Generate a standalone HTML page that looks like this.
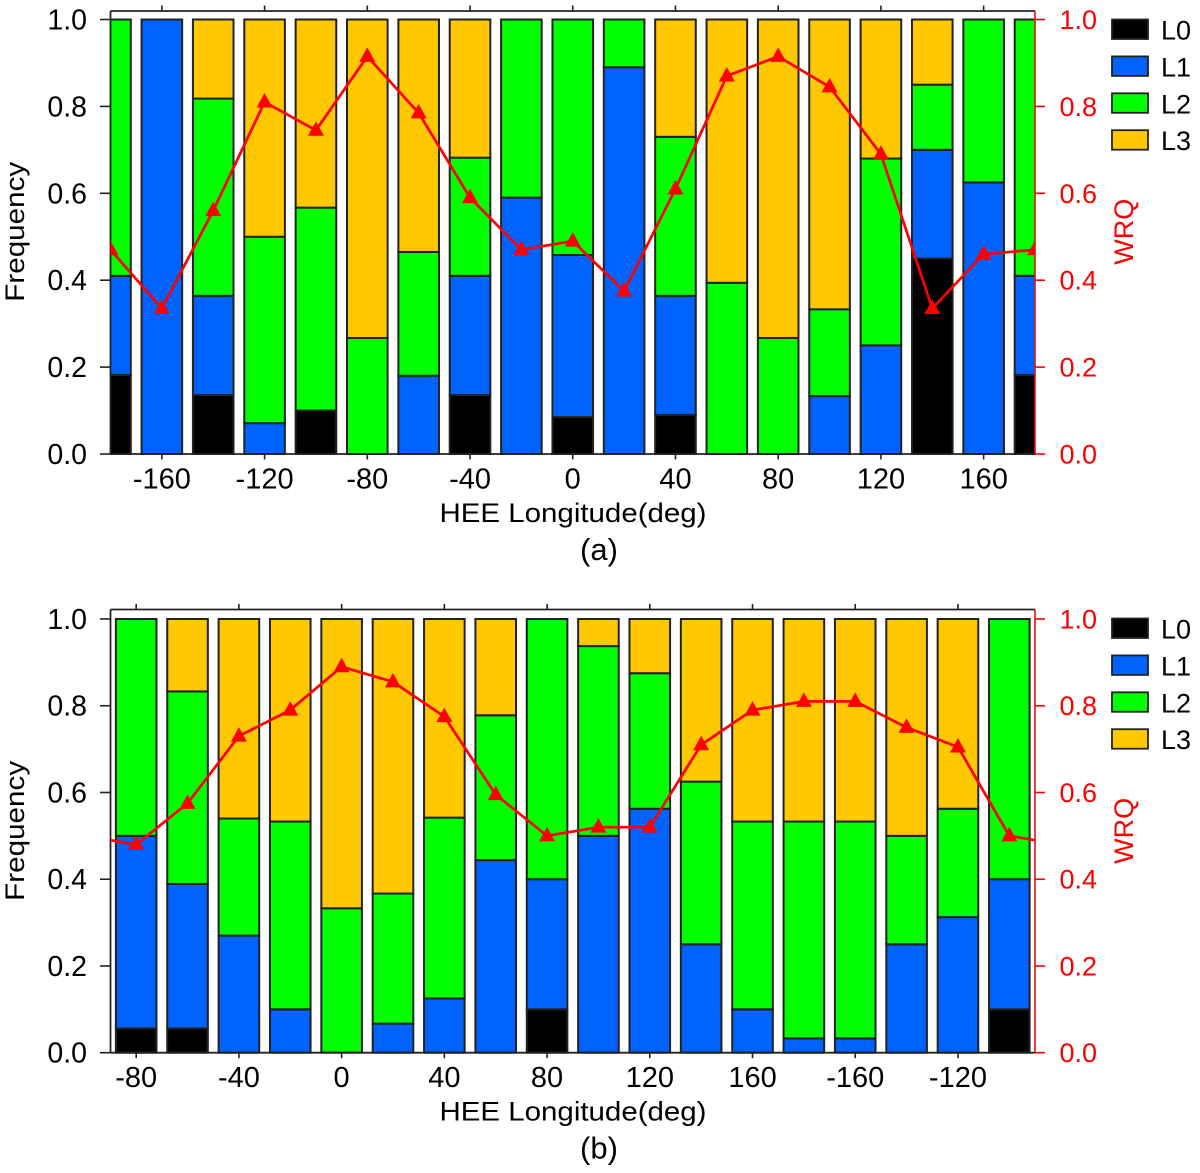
<!DOCTYPE html>
<html lang="en">
<head>
<meta charset="utf-8">
<title>Frequency and WRQ by HEE Longitude</title>
<style>
  html, body { margin: 0; padding: 0; background: #fff; }
  svg { display: block; filter: blur(0.35px); }
  text { font-family: "Liberation Sans", sans-serif; }
</style>
</head>
<body>
<svg id="chart" xmlns="http://www.w3.org/2000/svg" width="1200" height="1173" viewBox="0 0 1200 1173">
  <defs>
    <clipPath id="clip-a"><rect x="110.5" y="0" width="924.5" height="470"></rect></clipPath>
    <clipPath id="clip-b"><rect x="110.5" y="600" width="924.5" height="470"></rect></clipPath>
  </defs>
</svg>
<script>
// Shared axis labels
const yTickLabels = ['0.0', '0.2', '0.4', '0.6', '0.8', '1.0'];
const yTickValues = [0, 0.2, 0.4, 0.6, 0.8, 1];
const seriesNames = ['L0', 'L1', 'L2', 'L3'];

// Panel (a)
const lonA = [-180, -160, -140, -120, -100, -80, -60, -40, -20, 0, 20, 40, 60, 80, 100, 120, 140, 160, 180];
const xTickValuesA = [-160, -120, -80, -40, 0, 40, 80, 120, 160];
const xTickLabelsA = ['-160', '-120', '-80', '-40', '0', '40', '80', '120', '160'];
const l0A = [0.182, 0, 0.136, 0, 0.1, 0, 0, 0.136, 0, 0.085, 0, 0.09, 0, 0, 0, 0, 0.45, 0, 0.182];
const l1A = [0.228, 1, 0.228, 0.071, 0, 0, 0.18, 0.274, 0.59, 0.373, 0.89, 0.274, 0, 0, 0.133, 0.25, 0.25, 0.625, 0.228];
const l2A = [0.59, 0, 0.454, 0.429, 0.467, 0.267, 0.285, 0.272, 0.41, 0.542, 0.11, 0.366, 0.394, 0.267, 0.2, 0.43, 0.15, 0.375, 0.59];
const l3A = [0, 0, 0.182, 0.5, 0.433, 0.733, 0.535, 0.318, 0, 0, 0, 0.27, 0.606, 0.733, 0.667, 0.32, 0.15, 0, 0];
const wrqA = [0.47, 0.335, 0.56, 0.81, 0.745, 0.915, 0.785, 0.59, 0.47, 0.49, 0.375, 0.61, 0.87, 0.915, 0.845, 0.69, 0.335, 0.46, 0.47];

// Panel (b)
const lonB = [-80, -60, -40, -20, 0, 20, 40, 60, 80, 100, 120, 140, 160, 180, 200, 220, 240, 260];
const xTickValuesB = [-80, -40, 0, 40, 80, 120, 160, 200, 240];
const xTickLabelsB = ['-80', '-40', '0', '40', '80', '120', '160', '-160', '-120'];
const l0B = [0.056, 0.056, 0, 0, 0, 0, 0, 0, 0.1, 0, 0, 0, 0, 0, 0, 0, 0, 0.1];
const l1B = [0.444, 0.333, 0.27, 0.1, 0, 0.067, 0.125, 0.444, 0.3, 0.5, 0.5625, 0.25, 0.1, 0.033, 0.033, 0.25, 0.3125, 0.3];
const l2B = [0.5, 0.444, 0.27, 0.433, 0.333, 0.3, 0.417, 0.334, 0.6, 0.4375, 0.3125, 0.375, 0.433, 0.5, 0.5, 0.25, 0.25, 0.6];
const l3B = [0, 0.167, 0.46, 0.467, 0.667, 0.633, 0.458, 0.222, 0, 0.0625, 0.125, 0.375, 0.467, 0.467, 0.467, 0.5, 0.4375, 0];
const wrqB = [0.48, 0.575, 0.73, 0.79, 0.89, 0.855, 0.775, 0.595, 0.5, 0.52, 0.52, 0.71, 0.79, 0.81, 0.81, 0.75, 0.705, 0.5];

const seriesColors = ['#000000', '#0062ff', '#00ff00', '#ffc800'];
const NS = 'http://www.w3.org/2000/svg';
const svg = document.getElementById('chart');

function make(tag, attrs, parent, content) {
  const node = document.createElementNS(NS, tag);
  for (const key in attrs) node.setAttribute(key, attrs[key]);
  if (content !== undefined) node.textContent = content;
  parent.appendChild(node);
  return node;
}

function drawPanel(p) {
  const plotLeft = 110.5;
  const plotRight = 1035;
  const xScale = lon => plotLeft + (lon - p.lonMin) * (plotRight - plotLeft) / 360;
  const yScale = v => p.y0 + (p.y1 - p.y0) * v;
  const barWidth = 40.6;

  const group = make('g', {}, svg);
  
  

  // Stacked bars
  const barLayer = make('g', { 'clip-path': 'url(#clip-' + p.id + ')' }, group);
  
  
  p.lon.forEach((lon, i) => {
    let cumulative = 0;
    p.series.forEach((values, s) => {
      const v = values[i];
      if (v <= 0) return;
      const top = yScale(cumulative + v);
      const bottom = yScale(cumulative);
      const rect = make('rect', {
        x: xScale(lon) - barWidth / 2,
        y: top,
        width: barWidth,
        height: bottom - top,
        fill: seriesColors[s],
        stroke: '#222',
        'stroke-width': 2
      }, barLayer);
      
      
      cumulative += v;
    });
  });

  // Frame and axes
  const frameTop = make('line', { x1: plotLeft, x2: plotRight, y1: p.frameTop, y2: p.frameTop, stroke: '#222', 'stroke-width': 1.8 }, group);
  
  
  const frameBottom = make('line', { x1: plotLeft, x2: plotRight, y1: p.y0, y2: p.y0, stroke: '#222', 'stroke-width': 1.8 }, group);
  
  
  const frameLeft = make('line', { x1: plotLeft, x2: plotLeft, y1: p.frameTop, y2: p.y0, stroke: '#222', 'stroke-width': 1.8 }, group);
  
  

  p.xTicks.forEach((tick, i) => {
    const x = xScale(tick);
    const topTick = make('line', { x1: x, x2: x, y1: p.frameTop - 5.5, y2: p.frameTop, stroke: '#222', 'stroke-width': 1.6 }, group);
    
    
    const bottomTick = make('line', { x1: x, x2: x, y1: p.y0, y2: p.y0 + 5.5, stroke: '#222', 'stroke-width': 1.6 }, group);
    
    
    const label = make('text', { x: x, y: p.y0 + 34.5, 'text-anchor': 'middle', 'font-size': 29, fill: '#000' }, group, p.xLabels[i]);
    
    
  });

  yTickValues.forEach((v, i) => {
    const y = yScale(v);
    const leftTick = make('line', { x1: 100, x2: plotLeft, y1: y, y2: y, stroke: '#222', 'stroke-width': 1.6 }, group);
    
    
    const leftLabel = make('text', { x: 87, y: y + 10, 'text-anchor': 'end', 'font-size': 28.5, fill: '#000' }, group, yTickLabels[i]);
    
    
    const rightTick = make('line', { x1: plotRight, x2: 1045, y1: y, y2: y, stroke: '#ff0000', 'stroke-width': 1.6 }, group);
    
    
    const rightLabel = make('text', { x: 1097, y: y + 9.5, 'text-anchor': 'end', 'font-size': 27, fill: '#ff0000' }, group, yTickLabels[i]);
    
    
  });

  const rightAxis = make('line', { x1: plotRight, x2: plotRight, y1: p.frameTop, y2: p.y0, stroke: '#e01010', 'stroke-width': 1.6 }, group);
  
  

  // WRQ line
  const lineLayer = make('g', { 'clip-path': 'url(#clip-' + p.id + ')' }, group);
  
  
  let lons = p.lon.slice();
  let vals = p.wrq.slice();
  if (p.wrap) {
    lons = [lons[lons.length - 1] - 360].concat(lons, [lons[0] + 360]);
    vals = [vals[vals.length - 1]].concat(vals, [vals[0]]);
  }
  const points = lons.map((lon, i) => xScale(lon) + ',' + yScale(vals[i])).join(' ');
  const wrqLine = make('polyline', { points: points, fill: 'none', stroke: '#ff0000', 'stroke-width': 2.7 }, lineLayer);
  
  
  p.lon.forEach((lon, i) => {
    const cx = xScale(lon);
    const cy = yScale(p.wrq[i]);
    const marker = make('polygon', {
      points: (cx - 8) + ',' + (cy + 5.5) + ' ' + (cx + 8) + ',' + (cy + 5.5) + ' ' + cx + ',' + (cy - 9),
      fill: '#ff0000'
    }, lineLayer);
    
    
  });

  // Titles
  const xTitle = make('text', { x: 573, y: p.y0 + 68, 'text-anchor': 'middle', 'font-size': 27, textLength: 267, lengthAdjust: 'spacingAndGlyphs', fill: '#000' }, group, 'HEE Longitude(deg)');
  
  
  const yMid = (p.y0 + p.y1) / 2 - 5;
  const leftTitle = make('text', { transform: 'translate(24,' + yMid + ') rotate(-90)', 'text-anchor': 'middle', 'font-size': 27, textLength: 140, lengthAdjust: 'spacingAndGlyphs', fill: '#000' }, group, 'Frequency');
  
  
  const rightTitle = make('text', { transform: 'translate(1133,' + yMid + ') rotate(-90)', 'text-anchor': 'middle', 'font-size': 27, textLength: 66, lengthAdjust: 'spacingAndGlyphs', fill: '#ff0000' }, group, 'WRQ');
  
  
  const caption = make('text', { x: 599, y: p.y0 + 106, 'text-anchor': 'middle', 'font-size': 31, fill: '#000' }, group, p.caption);
  
  

  // Legend
  const legend = make('g', {}, group);
  
  
  seriesNames.forEach((name, s) => {
    const top = p.legendTop + s * 36.9;
    const swatch = make('rect', { x: 1112, y: top, width: 36, height: 19.5, fill: seriesColors[s], stroke: '#222', 'stroke-width': 1.8 }, legend);
    
    
    const entry = make('text', { x: 1161, y: top + 20, 'font-size': 27, fill: '#000' }, legend, name);
    
    
  });
}

drawPanel({
  id: 'a', caption: '(a)', lonMin: -180, y0: 454, y1: 19.5, frameTop: 11, legendTop: 19.5,
  lon: lonA, series: [l0A, l1A, l2A, l3A], wrq: wrqA, wrap: false,
  xTicks: xTickValuesA, xLabels: xTickLabelsA
});
drawPanel({
  id: 'b', caption: '(b)', lonMin: -90, y0: 1052.7, y1: 619, frameTop: 609.5, legendTop: 618.5,
  lon: lonB, series: [l0B, l1B, l2B, l3B], wrq: wrqB, wrap: true,
  xTicks: xTickValuesB, xLabels: xTickLabelsB
});
</script>
</body>
</html>
